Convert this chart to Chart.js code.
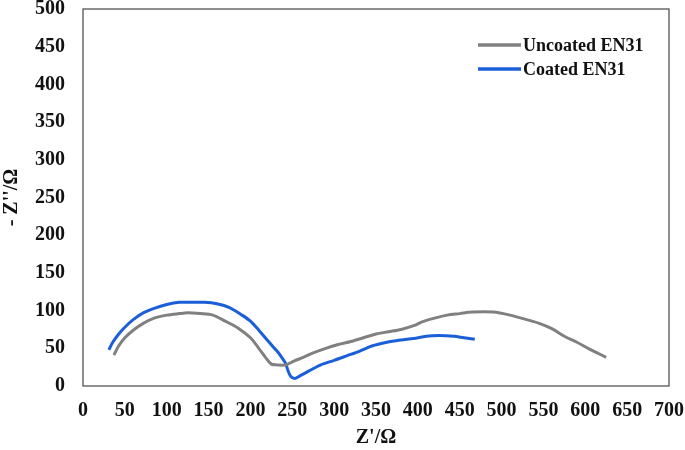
<!DOCTYPE html>
<html>
<head>
    <title>Nyquist plot EN31</title>
    <script src="https://cdn.jsdelivr.net/npm/chart.js"></script>
    <style>
        body { margin: 0; background: #fff; }
    </style>
</head>
<body>
    <canvas id="nyquist-chart" width="685" height="450"></canvas>

    <script>
        // Z' (x) and -Z'' (y) readings, in ohms
        const uncoatedZre = [37, 42, 50, 60, 72, 85, 100, 115, 125, 140, 155, 170, 185, 200, 210, 218, 225, 232, 242, 252, 263, 275, 290, 305, 320, 335, 350, 365, 380, 395, 405, 420, 435, 450, 465, 490, 510, 530, 545, 560, 575, 590, 605, 625];
        const uncoatedZim = [41, 52, 64, 74, 83, 90, 94, 96, 97, 96, 94, 86, 77, 64, 50, 38, 29, 28, 28, 33, 38, 44, 50, 55, 59, 64, 69, 72, 75, 80, 85, 90, 94, 96, 98, 98, 94, 88, 83, 76, 66, 58, 49, 38];

        const coatedZre = [31, 35, 42, 50, 60, 72, 85, 100, 115, 130, 145, 160, 175, 190, 200, 210, 220, 227, 232, 238, 242, 245, 248, 253, 260, 270, 284, 300, 315, 330, 345, 363, 380, 395, 410, 425, 443, 455, 468];
        const coatedZim = [48, 57, 68, 78, 88, 97, 103, 108, 111, 111, 111, 109, 104, 94, 86, 74, 61, 52, 46, 37, 30, 20, 13, 10, 14, 20, 28, 34, 40, 46, 53, 58, 61, 63, 66, 67, 66, 64, 62];

        const seriesNames = ['Uncoated EN31', 'Coated EN31'];
        const seriesColors = ['#808080', '#1a5fd8'];

        const toPoints = (xs, ys) => xs.map((x, i) => ({ x: x, y: ys[i] }));

        const serif = '"Liberation Serif", "Times New Roman", serif';

        // box around the plot area
        const frame = {
            id: 'frame',
            afterDraw(chart) {
                const a = chart.chartArea;
                const c = chart.ctx;
                c.save();
                c.strokeStyle = '#555';
                c.lineWidth = 1.3;
                c.strokeRect(a.left, a.top, a.right - a.left, a.bottom - a.top);
                c.restore();
            }
        };

        // legend drawn inside the plot, top right
        const insideLegend = {
            id: 'insideLegend',
            afterDraw(chart) {
                const c = chart.ctx;
                c.save();
                c.font = 'bold 18px ' + serif;
                c.textBaseline = 'middle';
                chart.data.datasets.forEach((ds, i) => {
                    const y = 45 + i * 24;
                    c.strokeStyle = ds.borderColor;
                    c.lineWidth = 3.5;
                    c.beginPath();
                    c.moveTo(478, y);
                    c.lineTo(521, y);
                    c.stroke();
                    c.fillStyle = '#111';
                    c.fillText(ds.label, 523, y + 1);
                });
                c.restore();
            }
        };

        const ctx = document.getElementById('nyquist-chart').getContext('2d');
        new Chart(ctx, {
            type: 'line',
            data: {
                datasets: [{
                    label: seriesNames[0],
                    data: toPoints(uncoatedZre, uncoatedZim),
                    borderColor: seriesColors[0],
                    borderWidth: 3,
                    pointRadius: 0,
                    tension: 0.3,
                    fill: false,
                }, {
                    label: seriesNames[1],
                    data: toPoints(coatedZre, coatedZim),
                    borderColor: seriesColors[1],
                    borderWidth: 3,
                    pointRadius: 0,
                    tension: 0.3,
                    fill: false,
                }],
            },
            options: {
                responsive: false,
                animation: false,
                layout: { padding: { top: 9, right: 16, left: 0, bottom: 0 } },
                plugins: {
                    legend: { display: false },
                    tooltip: { enabled: false },
                },
                scales: {
                    x: {
                        type: 'linear',
                        min: 0,
                        max: 700,
                        grid: { display: false, drawTicks: false },
                        border: { display: false },
                        ticks: {
                            stepSize: 50,
                            padding: 13,
                            color: '#111',
                            font: { family: serif, size: 20, weight: 'bold' },
                        },
                        title: {
                            display: true,
                            text: "Z'/Ω",
                            color: '#111',
                            padding: { top: 0, bottom: 0 },
                            font: { family: serif, size: 20, weight: 'bold' },
                        },
                        afterFit: (scale) => {
                            scale.height = 64;
                            scale.paddingLeft = 0;
                            scale.paddingRight = 0;
                        },
                    },
                    y: {
                        min: 0,
                        max: 500,
                        grid: { display: false, drawTicks: false },
                        border: { display: false },
                        ticks: {
                            stepSize: 50,
                            padding: 18,
                            color: '#111',
                            font: { family: serif, size: 20, weight: 'bold' },
                        },
                        title: {
                            display: true,
                            text: "- Z''/Ω",
                            color: '#111',
                            padding: { top: 0, bottom: 0 },
                            font: { family: serif, size: 20, weight: 'bold' },
                        },
                        afterFit: (scale) => {
                            scale.width = 83;
                            scale.paddingTop = 0;
                            scale.paddingBottom = 0;
                        },
                    },
                },
            },
            plugins: [frame, insideLegend],
        });
    </script>
</body>
</html>
